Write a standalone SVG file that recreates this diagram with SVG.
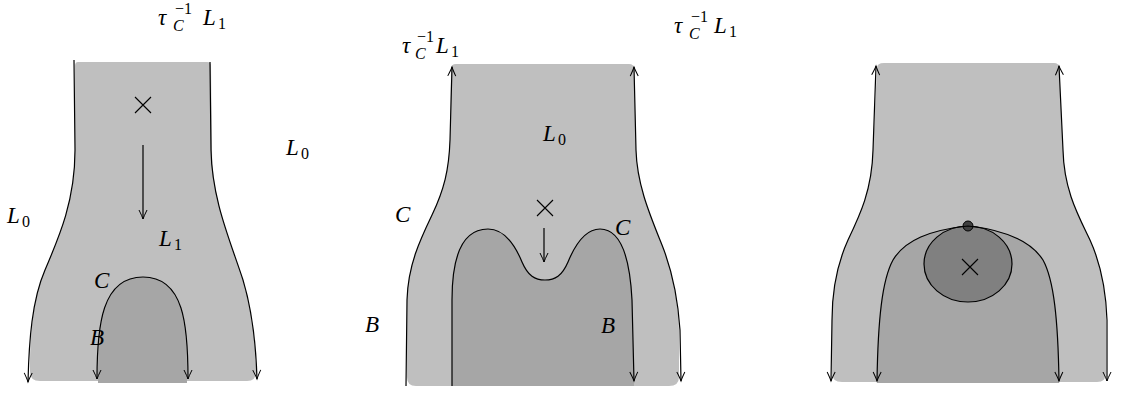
<svg xmlns="http://www.w3.org/2000/svg" width="1135" height="394" viewBox="0 0 1135 394">
<style>
.light{fill:#bfbfbf;stroke:none}
.dark{fill:#a6a6a6;stroke:none}
.ln{fill:none;stroke:#000;stroke-width:1.2}
.cross{stroke:#000;stroke-width:1.1;fill:none}
.t{font-family:"Liberation Serif",serif;font-style:italic;font-size:23px;fill:#000}
.s{font-family:"Liberation Serif",serif;font-size:16px;fill:#000}
.si{font-family:"Liberation Serif",serif;font-style:italic;font-size:16px;fill:#000}
</style>
<defs>
<marker id="ah" viewBox="-10 -5 12 10" refX="0" refY="0" markerWidth="12" markerHeight="10" markerUnits="userSpaceOnUse" orient="auto-start-reverse">
<path d="M-9,-4 Q-3,-1 0,0 Q-3,1 -9,4" fill="none" stroke="#000" stroke-width="1"/>
</marker>
</defs>

<g id="panel1">
<path class="light" d="M78,62 L207,62 Q211,62 211,66 L212,150 C212,200 230,240 243,280 C252,310 256,345 256,372 Q256,381 247,381 L40,381 Q30,381 30,372 C30,340 32,300 45,270 C60,235 75,200 75,150 L75,66 Q75,62 78,62 Z"/>
<path class="dark" d="M98,383 L98,379 C98,325 103,277 143,277 C183,277 187,325 187,379 L187,383 Z"/>
<path class="cross" d="M135,97 L151,113 M151,97 L135,113"/>
<text class="t" x="158" y="25">τ</text>
<text class="s" x="175" y="14">−1</text>
<text class="si" x="173" y="31">C</text>
<text class="t" x="203" y="25">L</text>
<text class="s" x="218" y="29">1</text>
<text class="t" x="286" y="155">L</text>
<text class="s" x="301" y="159">0</text>
<text class="t" x="7" y="223">L</text>
<text class="s" x="22" y="227">0</text>
<text class="t" x="159" y="246">L</text>
<text class="s" x="174" y="250">1</text>
<text class="t" x="94" y="288">C</text>
<text class="t" x="90" y="345">B</text>
</g>

<g id="panel2">
<path class="light" d="M456,64 L629,64 Q634,64 634,69 L636,150 C637,185 650,215 662,245 C672,270 678,300 679,330 L679,377 Q679,386 669,386 L416,386 Q407,386 407,377 L407,300 C408,265 420,240 432,215 C444,190 449,170 450,140 L451,69 Q451,64 456,64 Z"/>
<path class="dark" d="M452,386 L452,300 C452,250 465,229 488,229 C505,229 515,245 522,262 C528,276 535,280 545,280 C555,280 562,276 568,262 C575,245 585,229 600,229 C622,229 630,260 632,300 L634,381 L634,386 Z"/>
<path class="cross" d="M537,200 L553,216 M553,200 L537,216"/>
<text class="t" x="402" y="53">τ</text>
<text class="s" x="417" y="42">−1</text>
<text class="si" x="415" y="59">C</text>
<text class="t" x="436" y="53">L</text>
<text class="s" x="451" y="57">1</text>
<text class="t" x="543" y="141">L</text>
<text class="s" x="558" y="145">0</text>
<text class="t" x="395" y="222">C</text>
<text class="t" x="615" y="235">C</text>
<text class="t" x="365" y="332">B</text>
<text class="t" x="601" y="333">B</text>
</g>

<g id="panel3">
<path class="light" d="M884,63 L1054,63 Q1059,63 1059,68 L1063,150 C1064,190 1078,215 1090,240 C1100,262 1106,290 1106,320 L1106,373 Q1106,382 1097,382 L842,382 Q832,382 832,373 L832,320 C832,290 838,262 848,240 C860,215 872,190 873,150 L877,68 Q877,63 884,63 Z"/>
<path class="dark" d="M877,383 L877,381 C878,320 882,280 893,260 C905,240 930,230 968,226 C1005,230 1030,240 1043,260 C1054,280 1058,320 1059,381 L1059,383 Z"/>
<ellipse cx="968" cy="264" rx="44" ry="38" fill="#808080" stroke="#000" stroke-width="1.2"/>
<path class="cross" d="M962,259 L978,275 M978,259 L962,275"/>
<circle cx="968" cy="226" r="5" fill="#404040" stroke="#000" stroke-width="1"/>
<text class="t" x="674" y="33">τ</text>
<text class="s" x="691" y="22">−1</text>
<text class="si" x="689" y="39">C</text>
<text class="t" x="714" y="33">L</text>
<text class="s" x="729" y="37">1</text>
</g>

<g id="connectors">
<path class="ln" d="M74,60 L75,150 C75,200 60,235 45,270 C32,300 29,340 28,382" marker-end="url(#ah)"/>
<path class="ln" d="M210,62 L211,150 C212,200 230,240 243,280 C252,310 256,345 257,379" marker-end="url(#ah)"/>
<path class="ln" d="M97,379 C97,325 102,277 143,277 C184,277 188,325 188,379" marker-start="url(#ah)" marker-end="url(#ah)"/>
<path class="ln" d="M143,145 L143,219" marker-end="url(#ah)"/>

<path class="ln" d="M406,386 L407,300 C408,265 420,240 432,215 C444,190 449,170 450,140 L452,67" marker-end="url(#ah)"/>
<path class="ln" d="M634,67 L636,150 C637,185 650,215 662,245 C672,270 678,300 680,330 L681,381" marker-start="url(#ah)" marker-end="url(#ah)"/>
<path class="ln" d="M452,386 L452,300 C452,250 465,229 488,229 C505,229 515,245 522,262 C528,276 535,280 545,280 C555,280 562,276 568,262 C575,245 585,229 600,229 C622,229 630,260 632,300 L634,381" marker-end="url(#ah)"/>
<path class="ln" d="M544,228 L544,262" marker-end="url(#ah)"/>

<path class="ln" d="M876,66 L873,150 C872,190 860,215 848,240 C838,262 832,290 832,320 L831,381" marker-start="url(#ah)" marker-end="url(#ah)"/>
<path class="ln" d="M1059,66 L1063,150 C1064,190 1078,215 1090,240 C1100,262 1106,290 1107,320 L1107,381" marker-start="url(#ah)" marker-end="url(#ah)"/>
<path class="ln" d="M877,381 C878,320 882,280 893,260 C905,240 930,230 968,226 C1005,230 1030,240 1043,260 C1054,280 1058,320 1059,381" marker-start="url(#ah)" marker-end="url(#ah)"/>
</g>
</svg>
